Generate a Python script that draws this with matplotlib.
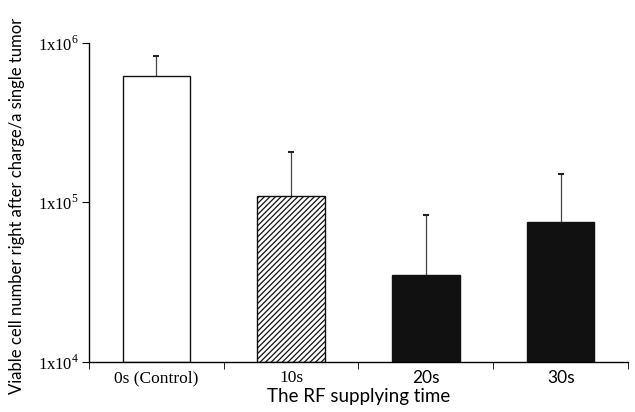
import numpy as np
import matplotlib
matplotlib.use("Agg")
import matplotlib.pyplot as plt
from matplotlib.ticker import FixedLocator, NullLocator

categories = ["0s (Control)", "10s", "20s", "30s"]
means = [6.2e5, 1.1e5, 3.5e4, 7.5e4]
upper_err = [8.3e5, 2.06e5, 8.4e4, 1.5e5]
y_ticks = [1e4, 1e5, 1e6]
y_tick_labels = ["1x10$^4$", "1x10$^5$", "1x10$^6$"]

plt.rcParams["hatch.linewidth"] = 0.9
plt.rcParams["mathtext.fontset"] = "custom"
plt.rcParams["mathtext.rm"] = "Liberation Serif"

fig = plt.figure(figsize=(6.35, 4.12), dpi=100)
ax = fig.add_axes([0.140, 0.121, 0.849, 0.775])

x = np.arange(len(categories))
faces = ["white", "white", "#111111", "#111111"]
hatches = [None, "//////", None, None]
for xi, m, fc, h in zip(x, means, faces, hatches):
    ax.bar(xi, m - 1e4, bottom=1e4, width=0.5, color=fc, edgecolor="#111111",
           linewidth=1.0, hatch=h, zorder=2)

# upper error bars only, with a small cap
ax.vlines(x, means, upper_err, color="#444444", linewidth=0.9, zorder=1)
ax.plot(x, upper_err, linestyle="none", marker="_", markersize=5,
        markeredgewidth=1.5, color="#222222", zorder=1)

ax.set_yscale("log")
ax.set_ylim(1e4, 1e6)
ax.set_xlim(-0.5, 3.5)
ax.yaxis.set_major_locator(FixedLocator(y_ticks))
ax.yaxis.set_minor_locator(NullLocator())
ax.set_yticklabels(y_tick_labels, fontfamily="Liberation Serif", fontsize=12)

ax.set_xticks(x)
ax.set_xticklabels(categories, fontsize=12.5)
fams = ["Liberation Serif", "Liberation Serif", "Lato", "Lato"]
for lab, f in zip(ax.get_xticklabels(), fams):
    lab.set_fontfamily(f)
ax.tick_params(axis="x", length=0, pad=6)
ax.set_xticks(np.arange(-0.5, 4.0, 1.0), minor=True)
ax.tick_params(axis="x", which="minor", length=5, direction="out")
ax.tick_params(axis="y", length=5, direction="out", pad=2)

for s in ["top", "right"]:
    ax.spines[s].set_visible(False)
ax.spines["left"].set_linewidth(1.0)
ax.spines["bottom"].set_linewidth(1.0)

ax.set_xlabel("The RF supplying time", fontfamily="Lato", fontsize=13.5, labelpad=1)
ax.set_ylabel("Viable cell number right after charge/a single tumor",
              fontfamily="Lato", fontsize=12)
ax.yaxis.set_label_coords(-0.118, 0.49)

fig.savefig("out.png", dpi=100)
